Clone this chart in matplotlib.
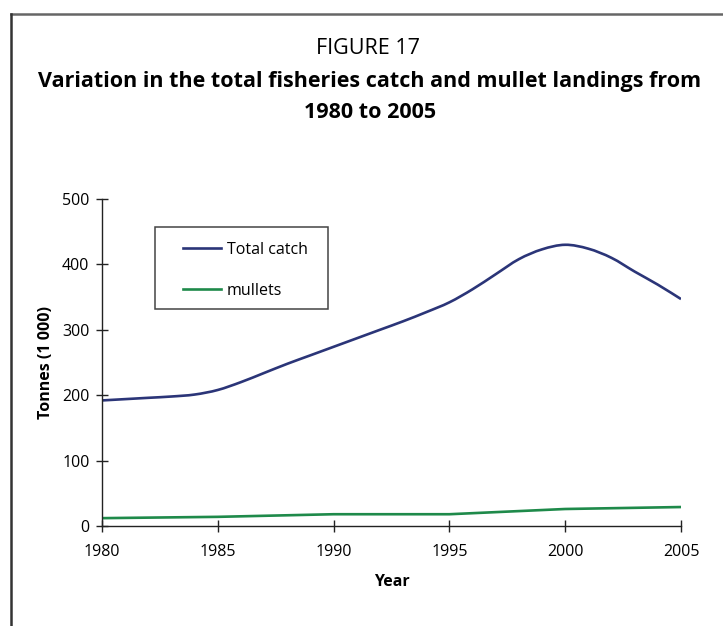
import matplotlib
matplotlib.use("Agg")
import matplotlib.pyplot as plt
from matplotlib.lines import Line2D
from matplotlib.patches import Rectangle, PathPatch
from matplotlib.path import Path

# ---- data ----
years = list(range(1980, 2006))
total_catch = [192, 194, 196, 198, 201, 208, 220, 234, 248, 261, 274, 287, 300,
               313, 327, 342, 362, 385, 408, 423, 430, 424, 410, 389, 369, 347]
mullet_years = [1980, 1985, 1990, 1995, 2000, 2005]
mullets = [12, 14, 18, 18, 26, 29]
series_labels = ["Total catch", "mullets"]
x_ticks = [1980, 1985, 1990, 1995, 2000, 2005]
y_ticks = [0, 100, 200, 300, 400, 500]

plt.rcParams['font.family'] = ['Open Sans', 'DejaVu Sans']

W, H = 723, 626
fig = plt.figure(figsize=(W / 100, H / 100), dpi=100)
ax = fig.add_axes([102 / W, 1 - 526 / H, 579 / W, 327 / H])

navy = "#2b3578"
green = "#1e8a4a"


def smooth_path(xs, ys, t=1 / 6):
    """Excel-style smoothed line: cubic Bezier through the data points."""
    verts = [(xs[0], ys[0])]
    codes = [Path.MOVETO]
    n = len(xs)
    for i in range(n - 1):
        x0, y0 = xs[max(i - 1, 0)], ys[max(i - 1, 0)]
        x1, y1 = xs[i], ys[i]
        x2, y2 = xs[i + 1], ys[i + 1]
        x3, y3 = xs[min(i + 2, n - 1)], ys[min(i + 2, n - 1)]
        c1 = (x1 + (x2 - x0) * t, y1 + (y2 - y0) * t)
        c2 = (x2 - (x3 - x1) * t, y2 - (y3 - y1) * t)
        verts += [c1, c2, (x2, y2)]
        codes += [Path.CURVE4] * 3
    return Path(verts, codes)


ax.add_patch(PathPatch(smooth_path(years, total_catch), fill=False,
                       edgecolor=navy, lw=1.9, capstyle='butt'))
ax.plot(mullet_years, mullets, color=green, lw=1.9, solid_capstyle='butt')

ax.set_xlim(1980, 2005)
ax.set_ylim(0, 500)
ax.set_xticks(x_ticks)
ax.set_yticks(y_ticks)
ax.tick_params(direction='inout', length=8, width=1, color='#222222',
               labelsize=11.5)
ax.tick_params(axis='x', pad=9)
ax.tick_params(axis='y', pad=5)
for s in ['top', 'right']:
    ax.spines[s].set_visible(False)
for s in ['left', 'bottom']:
    ax.spines[s].set_linewidth(1)
    ax.spines[s].set_color('#222222')

ax.set_xlabel("Year", fontsize=11.5, fontweight='bold', labelpad=10)
ax.set_ylabel("Tonnes (1 000)", fontsize=11.5, fontweight='bold', labelpad=6)

# legend
handles = [Line2D([], [], color=navy, lw=1.9), Line2D([], [], color=green, lw=1.9)]
fig.add_artist(Rectangle((155 / W, 1 - 309 / H), 173 / W, 82 / H,
                         transform=fig.transFigure, fill=False,
                         edgecolor='#444444', lw=1.1))
fig.legend(handles, series_labels, loc='upper left',
           bbox_to_anchor=(183 / W, 1 - 242 / H), frameon=False,
           fontsize=11.5, handlelength=2.35, handletextpad=0.4,
           labelspacing=1.55, borderpad=0, borderaxespad=0)

# titles
fig.text(368 / W, 1 - 48 / H, "FIGURE 17", ha='center', va='center', fontsize=15.5)
fig.text(370 / W, 1 - 82 / H,
         "Variation in the total fisheries catch and mullet landings from",
         ha='center', va='center', fontsize=15.5, fontweight='bold')
fig.text(370 / W, 1 - 113 / H, "1980 to 2005", ha='center', va='center',
         fontsize=15.5, fontweight='bold')

# page border (top and left)
fig.add_artist(Line2D([11 / W, 1.0], [1 - 14 / H, 1 - 14 / H],
                      transform=fig.transFigure, color='#666666', lw=1.8))
fig.add_artist(Line2D([11 / W, 11 / W], [0, 1 - 14 / H],
                      transform=fig.transFigure, color='#333333', lw=1.8))

fig.savefig("out.png", dpi=100)
